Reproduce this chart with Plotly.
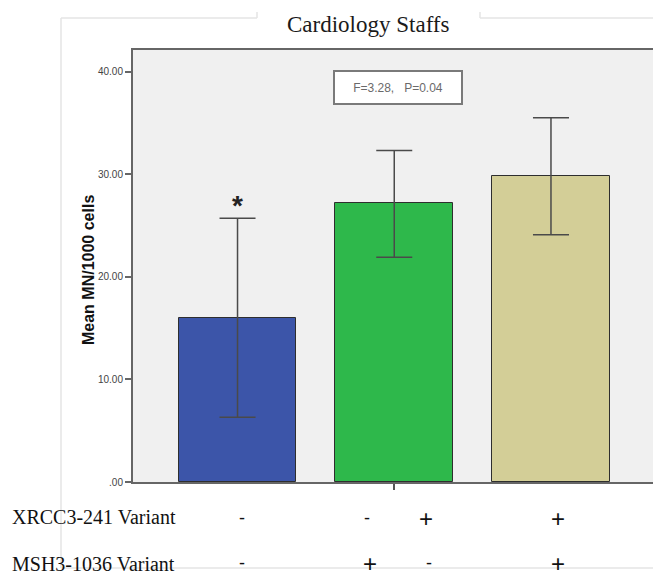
import plotly.graph_objects as go

# ---- data ----
categories = ["-/-", "-/+ , +/-", "+/+"]
means = [16.0, 27.2, 29.8]
err_plus = [9.7, 5.1, 5.7]
err_minus = [9.7, 5.3, 5.7]
bar_colors = ["#3c55a9", "#2eb84b", "#d3ce97"]
y_ticks = [0, 10, 20, 30, 40]
y_tick_text = [".00", "10.00", "20.00", "30.00", "40.00"]
row_labels = ["XRCC3-241 Variant", "MSH3-1036 Variant"]
row1_signs = ["-", "-", "+", "+"]
row2_signs = ["-", "+", "-", "+"]
stat_text = "F=3.28,   P=0.04"
star_text = "*"

W, H = 653, 579
L, R, T, B = 133, 0, 50, 97
PW, PH = W - L - R, H - T - B


def px_x(p):
    return (p - L) / PW


def px_y(p):
    return (H - B - p) / PH


fig = go.Figure()
fig.add_trace(go.Bar(
    x=[0, 1, 2], y=means,
    width=0.75,
    marker=dict(color=bar_colors, line=dict(color="#2e2e2e", width=1)),
    error_y=dict(type="data", symmetric=False, array=err_plus, arrayminus=err_minus,
                 color="#4a4a4a", thickness=1.5, width=18),
    hoverinfo="skip",
))

ann = []
# significance star above first bar
ann.append(dict(x=0, y=means[0] + err_plus[0], xref="x", yref="y", text="<b>" + star_text + "</b>",
                showarrow=False, xanchor="center", yanchor="bottom", yshift=-5,
                font=dict(family="Liberation Sans", size=28, color="#222")))
# stats box
ann.append(dict(x=px_x(398), y=px_y(87), xref="paper", yref="paper", text=stat_text,
                showarrow=False, xanchor="center", yanchor="middle",
                bgcolor="white", bordercolor="#7a7a7a", borderwidth=2,
                width=124, height=29,
                font=dict(family="Liberation Sans", size=12, color="#6a6a6a")))
# title
ann.append(dict(x=px_x(368), y=px_y(25), xref="paper", yref="paper", text="Cardiology Staffs",
                showarrow=False, xanchor="center", yanchor="middle",
                font=dict(family="Liberation Serif", size=23, color="#1a1a1a")))
# y axis title
ann.append(dict(x=px_x(88), y=px_y(270), xref="paper", yref="paper", text="<b>Mean MN/1000 cells</b>",
                textangle=-90, showarrow=False, xanchor="center", yanchor="middle",
                font=dict(family="Liberation Sans", size=16, color="#111")))
# row labels
for lab, py in zip(row_labels, [517, 564]):
    ann.append(dict(x=px_x(10), y=px_y(py), xref="paper", yref="paper", text=lab,
                    xanchor="left", yanchor="middle", showarrow=False,
                    font=dict(family="Liberation Serif", size=20, color="#111")))
# sign rows
row1_px = [242, 367, 426, 558]
row2_px = [242, 370, 429, 558]
for signs, xs, py in [(row1_signs, row1_px, 518), (row2_signs, row2_px, 563)]:
    for s, xp in zip(signs, xs):
        ann.append(dict(x=px_x(xp), y=px_y(py), xref="paper", yref="paper", text=s,
                        showarrow=False, xanchor="center", yanchor="middle",
                        font=dict(family="Liberation Sans", size=24 if s == "+" else 18, color="#111")))

# outer light frame with gap for the title
fc = "#e4e4e4"
shapes = [
    dict(type="line", xref="paper", yref="paper", x0=px_x(61), x1=px_x(61), y0=px_y(18), y1=px_y(568), line=dict(color=fc, width=1.5)),
    dict(type="line", xref="paper", yref="paper", x0=px_x(61), x1=px_x(257), y0=px_y(18), y1=px_y(18), line=dict(color=fc, width=1.5)),
    dict(type="line", xref="paper", yref="paper", x0=px_x(257), x1=px_x(257), y0=px_y(18), y1=px_y(12), line=dict(color=fc, width=1.5)),
    dict(type="line", xref="paper", yref="paper", x0=px_x(480), x1=px_x(653), y0=px_y(18), y1=px_y(18), line=dict(color=fc, width=1.5)),
    dict(type="line", xref="paper", yref="paper", x0=px_x(480), x1=px_x(480), y0=px_y(18), y1=px_y(12), line=dict(color=fc, width=1.5)),
    dict(type="line", xref="paper", yref="paper", x0=px_x(61), x1=px_x(653), y0=px_y(568), y1=px_y(568), line=dict(color=fc, width=1.5)),
]

fig.update_layout(
    width=W, height=H,
    margin=dict(l=L, r=R, t=T, b=B, pad=0),
    paper_bgcolor="white",
    plot_bgcolor="#f0f0f0",
    showlegend=False,
    annotations=ann,
    shapes=shapes,
    bargap=0,
)
fig.update_xaxes(range=[-0.667, 2.651], tickvals=[1], ticktext=[""], ticks="outside",
                 ticklen=6, tickcolor="#555", tickwidth=1.5,
                 showline=True, mirror=True, linecolor="#666", linewidth=2,
                 showgrid=False, zeroline=False, fixedrange=True)
fig.update_yaxes(range=[0, 42.1], tickvals=y_ticks, ticktext=y_tick_text, ticks="outside",
                 ticklen=6, tickcolor="#666", tickwidth=1.5,
                 tickfont=dict(family="Liberation Sans", size=10, color="#444"),
                 showline=True, linecolor="#666", linewidth=2,
                 showgrid=False, zeroline=False, fixedrange=True)

fig.write_html("out.html", config={"displayModeBar": False},
               post_script="document.body.style.margin='0px';document.body.style.overflow='hidden';")
